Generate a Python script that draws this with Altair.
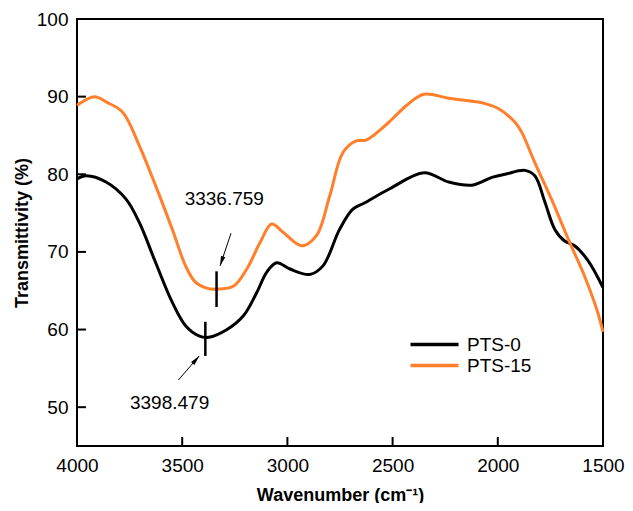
import altair as alt
import pandas as pd

# ---- data ----
wn_pts0 = [4000, 3956, 3862, 3767, 3704, 3626, 3547, 3484, 3421, 3374, 3287, 3208, 3145, 3098, 3051,
           2988, 2894, 2831, 2752, 2689, 2634, 2516, 2351, 2233, 2123, 2028, 1965, 1871, 1824, 1776,
           1729, 1682, 1635, 1572, 1500]
t_pts0 = [79.4, 79.8, 79.0, 76.8, 73.8, 68.6, 63.5, 60.5, 59.2, 59.0, 60.0, 61.8, 64.8, 67.4, 68.6,
          67.8, 67.1, 68.2, 72.9, 75.5, 76.3, 78.1, 80.2, 79.0, 78.6, 79.6, 80.0, 80.5, 79.8, 76.4,
          72.9, 71.4, 70.8, 68.9, 65.4]

wn_pts15 = [4000, 3916, 3860, 3783, 3704, 3626, 3547, 3484, 3437, 3380, 3334, 3255, 3193, 3130, 3075,
            3019, 2933, 2862, 2799, 2736, 2673, 2626, 2518, 2437, 2352, 2234, 2093, 2060, 2000, 1918,
            1886, 1824, 1745, 1658, 1588, 1525, 1500]
t_pts15 = [88.9, 90.0, 89.3, 88.0, 83.7, 78.5, 72.9, 68.2, 66.1, 65.3, 65.2, 65.6, 67.8, 71.2, 73.6,
           72.5, 70.8, 72.1, 77.2, 82.8, 84.3, 84.4, 86.7, 88.8, 90.3, 89.8, 89.3, 89.1, 88.5, 86.7,
           85.4, 81.5, 76.8, 71.2, 66.9, 62.2, 59.7]

series_names = ["PTS-0", "PTS-15"]
series_colors = ["#000000", "#FF7F2A"]

x_ticks = [4000, 3500, 3000, 2500, 2000, 1500]
y_ticks = [50, 60, 70, 80, 90, 100]
x_inner_ticks = [3500, 3000, 2500, 2000]
y_inner_ticks = [50, 60, 70, 80, 90]

# peak markers (vertical bars) and annotations
mark_x = [3390, 3336.759]
mark_y1 = [56.6, 62.9]
mark_y2 = [61.0, 67.5]

ann_text = ["3398.479", "3336.759"]
ann_x = [3560, 3300]
ann_y = [50.6, 76.8]
arrow_x1 = [3518, 3268]
arrow_y1 = [53.5, 72.4]
arrow_x2 = [3419, 3320]
arrow_y2 = [56.6, 68.2]
arrow_angle = [41, 198]

FONT = "Liberation Sans"
W, H = 526, 427

lines = pd.DataFrame(
    [{"wn": w, "T": t, "series": series_names[0]} for w, t in zip(wn_pts0, t_pts0)]
    + [{"wn": w, "T": t, "series": series_names[1]} for w, t in zip(wn_pts15, t_pts15)]
)

xscale = alt.Scale(domain=[1500, 4000], reverse=True, nice=False, zero=False)
yscale = alt.Scale(domain=[45, 100], nice=False, zero=False)

xaxis = alt.Axis(values=x_ticks, title="Wavenumber (cm⁻¹)", grid=False, ticks=False, domain=False,
                 labelFontSize=19, labelFont=FONT, labelPadding=10, labelColor="black",
                 titleFont=FONT, titleFontSize=18, titleFontWeight="bold", titleColor="black",
                 titlePadding=11, format="d", labelFlush=False, labelOverlap=False)
yaxis = alt.Axis(values=y_ticks, title="Transmittivity (%)", grid=False, ticks=False, domain=False,
                 labelFontSize=19, labelFont=FONT, labelPadding=9, labelColor="black",
                 titleFont=FONT, titleFontSize=18, titleFontWeight="bold", titleColor="black",
                 titlePadding=5, format="d", labelFlush=False, labelOverlap=False)

line_layer = alt.Chart(lines).mark_line(strokeWidth=3, interpolate="catmull-rom").encode(
    x=alt.X("wn:Q", scale=xscale, axis=xaxis),
    y=alt.Y("T:Q", scale=yscale, axis=yaxis),
    color=alt.Color("series:N", scale=alt.Scale(domain=series_names, range=series_colors),
                    legend=alt.Legend(title=None, orient="none", legendX=324, legendY=316,
                                      symbolType="M0,0L8,0", symbolSize=144, symbolStrokeWidth=3.5,
                                      labelFontSize=19, labelFont=FONT, labelColor="black",
                                      rowPadding=1, labelOffset=47, padding=0)),
    order=alt.Order("idx:Q"),
).transform_window(idx="row_number()", groupby=["series"])

xt = alt.Chart(pd.DataFrame({"v": x_inner_ticks})).mark_rule(color="black", strokeWidth=2).encode(
    x=alt.X("v:Q", scale=xscale), y=alt.value(H), y2=alt.value(H - 9))
yt = alt.Chart(pd.DataFrame({"v": y_inner_ticks})).mark_rule(color="black", strokeWidth=2).encode(
    y=alt.Y("v:Q", scale=yscale), x=alt.value(0), x2=alt.value(9))

marks = alt.Chart(pd.DataFrame({"x": mark_x, "y1": mark_y1, "y2": mark_y2})).mark_rule(
    color="black", strokeWidth=2.5).encode(
    x=alt.X("x:Q", scale=xscale), y=alt.Y("y1:Q", scale=yscale), y2="y2:Q")

arrows_df = pd.DataFrame({"x1": arrow_x1, "y1": arrow_y1, "x2": arrow_x2, "y2": arrow_y2,
                          "ang": arrow_angle})
arrow_lines = alt.Chart(arrows_df).mark_rule(color="black", strokeWidth=1).encode(
    x=alt.X("x1:Q", scale=xscale), y=alt.Y("y1:Q", scale=yscale), x2="x2:Q", y2="y2:Q")
arrow_heads = alt.Chart(arrows_df).mark_point(
    shape="M0,0L0.5,2.2L-0.5,2.2Z", filled=True, color="black", size=81, opacity=1).encode(
    x=alt.X("x2:Q", scale=xscale), y=alt.Y("y2:Q", scale=yscale),
    angle=alt.Angle("ang:Q", scale=None))

texts = alt.Chart(pd.DataFrame({"t": ann_text, "x": ann_x, "y": ann_y})).mark_text(
    font=FONT, fontSize=19, color="black", align="center", baseline="middle").encode(
    x=alt.X("x:Q", scale=xscale), y=alt.Y("y:Q", scale=yscale), text="t:N")

chart = alt.layer(line_layer, xt, yt, marks, arrow_lines, arrow_heads, texts).properties(
    width=W, height=H,
    autosize=alt.AutoSizeParams(type="none"),
    padding={"left": 69, "top": 11, "right": 22, "bottom": 57},
).configure(background="white").configure_view(stroke="black", strokeWidth=2)

chart.save("out.html", embed_options={"renderer": "svg", "actions": False})
